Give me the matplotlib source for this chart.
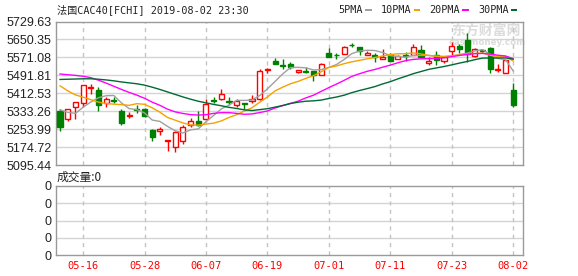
import matplotlib.pyplot as plt
from matplotlib.patches import Rectangle

# CAC40 daily candles, 2019-05-13 .. 2019-08-02
dates = ['05-13', '05-14', '05-15', '05-16', '05-17', '05-20', '05-21', '05-22', '05-23', '05-24',
         '05-27', '05-28', '05-29', '05-30', '05-31', '06-03', '06-04', '06-05', '06-06', '06-07',
         '06-10', '06-11', '06-12', '06-13', '06-14', '06-17', '06-18', '06-19', '06-20', '06-21',
         '06-24', '06-25', '06-26', '06-27', '06-28', '07-01', '07-02', '07-03', '07-04', '07-05',
         '07-08', '07-09', '07-10', '07-11', '07-12', '07-15', '07-16', '07-17', '07-18', '07-19',
         '07-22', '07-23', '07-24', '07-25', '07-26', '07-29', '07-30', '07-31', '08-01', '08-02']

opens = [5336.4, 5298.2, 5354.0, 5368.8, 5436.4, 5427.5, 5371.7, 5383.4, 5336.4, 5314.4,
         5345.2, 5342.3, 5251.2, 5248.2, 5204.0, 5174.7, 5204.1, 5274.7, 5292.3, 5301.1,
         5383.4, 5386.4, 5377.6, 5362.9, 5368.8, 5377.6, 5386.4, 5515.8, 5556.9, 5536.3,
         5542.2, 5507.0, 5509.9, 5509.9, 5495.2, 5592.2, 5583.4, 5586.3, 5627.5, 5615.7,
         5583.4, 5583.4, 5565.7, 5583.4, 5565.7, 5580.0, 5583.4, 5603.9, 5545.2, 5583.4,
         5554.0, 5598.1, 5621.6, 5648.0, 5577.5, 5603.0, 5612.8, 5515.8, 5501.0, 5427.6]
highs = [5345.0, 5345.0, 5376.1, 5451.0, 5454.0, 5439.0, 5395.0, 5398.0, 5342.0, 5332.0,
         5360.0, 5348.0, 5254.0, 5263.0, 5207.0, 5245.0, 5274.7, 5304.0, 5333.5, 5389.3,
         5398.0, 5430.5, 5395.0, 5389.3, 5369.0, 5407.0, 5521.6, 5524.5, 5568.6, 5562.8,
         5551.0, 5516.0, 5530.4, 5512.8, 5548.0, 5612.8, 5592.0, 5620.0, 5636.3, 5618.7,
         5601.0, 5589.0, 5609.8, 5592.2, 5583.4, 5594.5, 5630.4, 5624.5, 5571.6, 5598.0,
         5577.5, 5639.2, 5630.4, 5680.4, 5612.7, 5610.0, 5618.7, 5542.2, 5562.8, 5459.9]
lows = [5248.0, 5292.3, 5301.1, 5351.0, 5410.0, 5336.0, 5354.0, 5369.0, 5274.7, 5302.6,
        5327.6, 5307.0, 5204.0, 5230.6, 5160.0, 5154.0, 5189.4, 5266.0, 5268.8, 5298.0,
        5371.7, 5383.4, 5360.0, 5354.0, 5342.3, 5371.7, 5383.4, 5501.0, 5542.0, 5521.6,
        5521.6, 5504.0, 5501.0, 5468.7, 5492.0, 5574.6, 5562.8, 5585.0, 5618.7, 5580.4,
        5580.4, 5551.0, 5562.8, 5554.0, 5562.8, 5554.0, 5580.4, 5571.6, 5539.3, 5539.3,
        5548.1, 5580.4, 5589.2, 5551.0, 5574.6, 5590.0, 5501.0, 5507.0, 5501.0, 5351.0]
closes = [5265.8, 5342.3, 5373.2, 5448.2, 5442.2, 5361.4, 5386.4, 5379.0, 5283.5, 5317.3,
          5339.4, 5312.9, 5221.8, 5254.1, 5207.0, 5242.3, 5265.9, 5289.4, 5274.7, 5365.8,
          5380.5, 5409.9, 5374.6, 5377.6, 5365.8, 5389.3, 5509.9, 5518.7, 5542.2, 5533.4,
          5527.5, 5515.8, 5507.0, 5495.2, 5542.2, 5574.6, 5580.4, 5618.7, 5624.5, 5598.1,
          5592.2, 5574.6, 5574.6, 5556.9, 5577.5, 5577.0, 5615.7, 5574.6, 5556.9, 5559.8,
          5571.6, 5621.6, 5609.8, 5586.3, 5609.8, 5600.0, 5518.7, 5518.7, 5559.8, 5362.9]

ma5 = [5340.1, 5329.4, 5324.4, 5351.4, 5374.3, 5393.5, 5402.3, 5403.4, 5370.5, 5345.5,
       5341.1, 5326.4, 5295.0, 5289.1, 5267.0, 5247.6, 5238.2, 5251.7, 5255.9, 5287.6,
       5315.3, 5344.1, 5361.1, 5381.7, 5381.7, 5383.4, 5403.4, 5432.3, 5465.2, 5498.7,
       5526.3, 5527.5, 5525.2, 5515.8, 5517.5, 5527.0, 5539.9, 5562.2, 5588.1, 5599.3,
       5602.8, 5601.6, 5592.8, 5579.3, 5575.2, 5572.1, 5580.3, 5580.3, 5580.3, 5576.8,
       5575.7, 5576.9, 5583.9, 5589.8, 5599.8, 5605.5, 5584.9, 5566.7, 5561.4, 5512.0]
ma10 = [5446.0, 5424.0, 5406.0, 5396.0, 5385.0, 5374.0, 5368.0, 5365.0, 5363.0, 5359.9,
        5367.3, 5364.4, 5349.2, 5329.8, 5306.3, 5294.4, 5282.3, 5273.4, 5272.5, 5277.3,
        5281.4, 5291.1, 5306.4, 5318.8, 5334.7, 5349.4, 5373.8, 5396.7, 5423.4, 5440.2,
        5454.9, 5465.5, 5478.7, 5490.5, 5508.1, 5526.7, 5533.7, 5543.7, 5551.9, 5558.4,
        5564.9, 5570.8, 5577.5, 5583.7, 5587.2, 5587.5, 5591.0, 5586.6, 5579.8, 5576.0,
        5573.9, 5578.6, 5582.1, 5585.1, 5588.3, 5590.6, 5580.9, 5575.3, 5575.6, 5555.9]
ma20 = [5498.0, 5495.0, 5492.0, 5488.0, 5482.0, 5471.0, 5458.0, 5444.0, 5430.0, 5417.0,
        5405.0, 5391.0, 5374.0, 5360.0, 5343.0, 5331.0, 5324.0, 5319.0, 5317.0, 5318.6,
        5324.4, 5327.7, 5327.8, 5324.3, 5320.5, 5321.9, 5328.0, 5335.0, 5348.0, 5358.8,
        5368.2, 5378.3, 5392.6, 5404.6, 5421.4, 5438.0, 5453.7, 5470.2, 5487.7, 5499.3,
        5509.9, 5518.1, 5528.1, 5537.1, 5547.7, 5557.1, 5562.3, 5565.1, 5565.9, 5567.2,
        5569.4, 5574.7, 5579.8, 5584.4, 5587.8, 5589.0, 5585.9, 5580.9, 5577.7, 5566.0]
ma30 = [5474.0, 5475.0, 5476.0, 5477.0, 5477.0, 5475.0, 5472.0, 5468.0, 5463.0, 5459.0,
        5455.0, 5449.0, 5440.0, 5430.0, 5419.0, 5408.0, 5397.0, 5387.0, 5378.0, 5371.0,
        5364.0, 5358.0, 5351.0, 5346.0, 5340.0, 5337.0, 5341.0, 5345.0, 5352.0, 5359.2,
        5367.9, 5373.7, 5378.1, 5379.7, 5383.0, 5390.1, 5396.6, 5404.6, 5415.9, 5425.3,
        5433.7, 5442.5, 5454.2, 5464.3, 5476.7, 5487.8, 5499.5, 5509.0, 5518.4, 5524.9,
        5531.2, 5538.3, 5546.1, 5553.1, 5561.2, 5568.2, 5568.5, 5568.5, 5569.1, 5563.4]

volumes = [0] * len(dates)

price_ticks = [5095.44, 5174.72, 5253.99, 5333.26, 5412.53, 5491.81, 5571.08, 5650.35, 5729.63]
date_labels = ['05-16', '05-28', '06-07', '06-19', '07-01', '07-11', '07-23', '08-02']

UP = '#ff0000'
DOWN = '#008000'
MA_COLORS = {'5PMA': '#a0a0a0', '10PMA': '#f5a200', '20PMA': '#ff00ff', '30PMA': '#006a32'}
GRID = '#d4d4d4'
VGRID = '#c4c4c4'
FRAME = '#9a9a9a'
TXT = '#222222'
MONO = ['DejaVu Sans Mono', 'Noto Sans CJK SC']
CJK = ['Noto Sans CJK SC', 'DejaVu Sans']

fig = plt.figure(figsize=(5.78, 2.76), dpi=100)

# watermark sits behind the price panel
fig.text(486 / 578, 1 - 31 / 276, '东方财富网', family=CJK, fontsize=10, fontweight='bold',
         color='#dcdcdc', ha='center', va='center', zorder=-5)
fig.text(487 / 578, 1 - 42.5 / 276, 'eastmoney.com', family='DejaVu Sans', fontsize=6.3,
         fontweight='bold', color='#dcdcdc', ha='center', va='center', zorder=-5)

ax = fig.add_axes([55.5 / 578, (276 - 165.3) / 276, 467 / 578, 143.8 / 276])
axv = fig.add_axes([55.5 / 578, (276 - 255.3) / 276, 467 / 578, 69.3 / 276])
ax.set_facecolor('none')

x = list(range(len(dates)))
tick_pos = [dates.index(d) for d in date_labels]

# candles
for i in x:
    o, h, l, c = opens[i], highs[i], lows[i], closes[i]
    col = UP if c >= o else DOWN
    ax.vlines(i, l, h, color=col, lw=1, zorder=3)
    bottom = min(o, c)
    height = max(abs(c - o), 0.8)
    ax.add_patch(Rectangle((i - 0.33, bottom), 0.66, height,
                           facecolor='white' if c >= o else DOWN,
                           edgecolor=col, lw=1, zorder=4))

# moving averages
for name, vals in [('5PMA', ma5), ('10PMA', ma10), ('20PMA', ma20), ('30PMA', ma30)]:
    ax.plot(x, vals, color=MA_COLORS[name], lw=1, zorder=5)

ax.set_xlim(-0.59, 60.22)
ax.set_ylim(price_ticks[0], price_ticks[-1])
ax.set_yticks(price_ticks)
ax.set_yticklabels([f'{v:.2f}' for v in price_ticks], fontsize=9,
                   family='Liberation Sans', color=TXT)
ax.set_xticks([])
ax.tick_params(axis='y', length=0, pad=3)
for t in price_ticks[1:-1]:
    ax.axhline(t, color=GRID, lw=1, zorder=1)

# volume panel (all zero)
axv.bar(x, volumes, width=0.66, color=DOWN)
axv.set_xlim(-0.59, 60.22)
axv.set_ylim(0, 4)
axv.set_yticks([0, 1, 2, 3, 4])
axv.set_yticklabels(['0'] * 5, fontsize=9, family='Liberation Sans', color=TXT)
axv.tick_params(axis='y', length=0, pad=3)
axv.set_xticks(tick_pos)
axv.set_xticklabels(date_labels, color='#ff0000', fontsize=7.5, family='DejaVu Sans Mono')
axv.tick_params(axis='x', length=0, pad=4)
for t in [1, 2, 3]:
    axv.axhline(t, color=GRID, lw=1, zorder=1)

for a in (ax, axv):
    for p in tick_pos:
        a.axvline(p, color=VGRID, lw=1, ls=(0, (3, 3)), zorder=1)
    for s in a.spines.values():
        s.set_color(FRAME)
        s.set_linewidth(1)

# titles and legend
fig.text(57 / 578, 1 - 9.5 / 276, '法国CAC40[FCHI] 2019-08-02 23:30', family=MONO,
         fontsize=7.3, color=TXT, va='center', ha='left')
fig.text(57 / 578, 1 - 177 / 276, '成交量:0', family=CJK, fontsize=8.5,
         color=TXT, va='center', ha='left')

lx = 338.5
for name, col in MA_COLORS.items():
    fig.text(lx / 578, 1 - 10 / 276, name, family=MONO, fontsize=7.3,
             color=TXT, va='center', ha='left')
    w = len(name) * 6.0
    fig.patches.append(Rectangle(((lx + w + 2.5) / 578, 1 - 11.2 / 276), 6.5 / 578, 2.4 / 276,
                                 transform=fig.transFigure, facecolor=col, edgecolor='none'))
    lx += w + 18.5

fig.savefig('out.png', dpi=100)
